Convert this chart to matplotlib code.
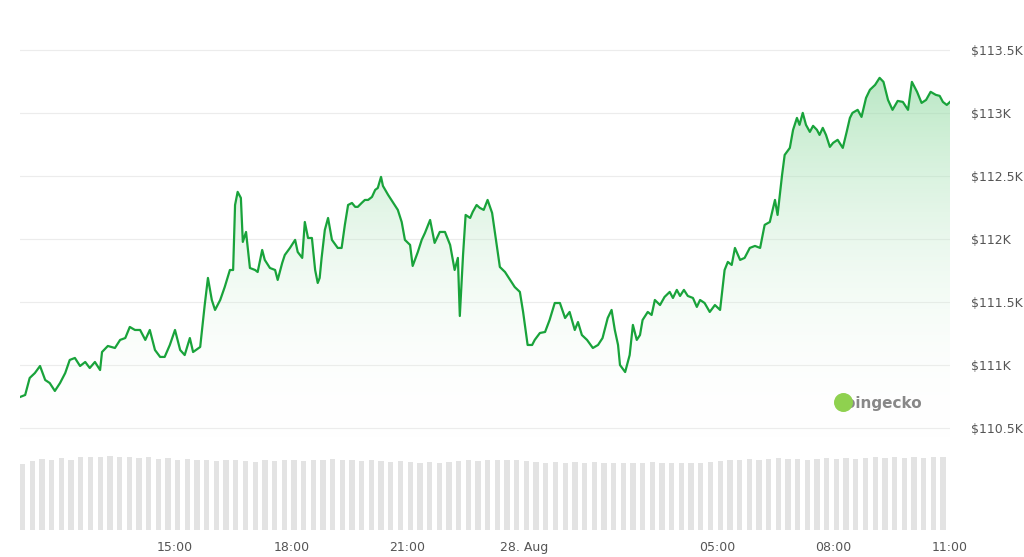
import matplotlib
matplotlib.use("Agg")
import matplotlib.pyplot as plt
import numpy as np
from matplotlib.patches import Polygon
from matplotlib.colors import LinearSegmentedColormap

# minutes since 27 Aug 11:00
minutes = [0,8,15,23,31,39,46,54,62,70,77,85,93,101,108,116,124,127,136,147,155,163,170,178,186,194,201,209,217,224,
232,240,248,255,263,268,279,286,291,297,302,310,317,325,330,333,337,342,345,350,356,364,368,375,379,387,395,399,406,410,
418,426,430,437,441,446,452,457,461,464,467,472,477,483,492,498,503,508,514,519,523,529,534,539,545,550,554,559,562,570,
577,585,591,596,604,608,616,622,627,635,642,650,658,666,673,678,681,686,690,697,701,707,712,718,724,731,737,743,751,759,
766,774,779,786,793,797,805,813,820,828,836,844,851,859,864,870,878,887,895,902,910,916,921,926,929,937,944,949,955,960,
964,972,978,983,991,998,1006,1011,1017,1022,1028,1034,1042,1048,1053,1060,1068,1076,1084,1091,1096,1102,1107,1115,1122,1130,1138,1146,1153,1161,
1169,1173,1180,1184,1192,1197,1203,1207,1212,1217,1223,1228,1234,1238,1243,1248,1254,1259,1266,1274,1280,1285,1289,1297,1303,1310,1316,1324,1331,1337,
1344,1351,1359,1367,1375,1381,1389,1396,1403,1410,1418,1424,1429,1435,1440]
price_k = [110.746,110.762,110.897,110.936,110.992,110.881,110.857,110.794,110.857,110.936,111.040,111.056,110.992,111.024,110.976,111.024,110.960,111.103,111.151,111.135,
111.199,111.214,111.302,111.278,111.278,111.199,111.278,111.119,111.064,111.064,111.159,111.278,111.119,111.079,111.214,111.103,111.143,111.476,111.691,111.516,
111.437,111.516,111.619,111.754,111.754,112.270,112.374,112.326,111.977,112.056,111.770,111.754,111.738,111.913,111.834,111.770,111.754,111.675,111.810,111.873,
111.929,111.993,111.897,111.850,112.135,112.008,112.008,111.754,111.651,111.691,111.850,112.072,112.167,111.993,111.929,111.929,112.112,112.270,112.286,112.255,
112.255,112.286,112.310,112.310,112.334,112.390,112.405,112.493,112.421,112.350,112.294,112.231,112.135,111.993,111.953,111.786,111.897,111.993,112.048,112.151,
111.969,112.056,112.056,111.953,111.754,111.850,111.389,111.873,112.191,112.167,112.215,112.270,112.247,112.231,112.310,112.207,111.993,111.778,111.738,111.675,
111.619,111.580,111.421,111.159,111.159,111.199,111.254,111.262,111.357,111.492,111.492,111.373,111.421,111.278,111.341,111.238,111.199,111.135,111.159,111.214,
111.373,111.437,111.278,111.159,111.000,110.944,111.079,111.318,111.199,111.238,111.357,111.421,111.397,111.516,111.476,111.540,111.580,111.532,111.596,111.548,
111.596,111.548,111.532,111.461,111.516,111.492,111.421,111.476,111.437,111.754,111.818,111.794,111.929,111.834,111.850,111.929,111.945,111.929,112.112,112.135,
112.310,112.191,112.509,112.667,112.723,112.866,112.961,112.906,113.001,112.906,112.850,112.898,112.866,112.826,112.882,112.826,112.731,112.763,112.787,112.723,
112.850,112.961,113.001,113.025,112.969,113.120,113.184,113.223,113.279,113.247,113.104,113.025,113.096,113.088,113.025,113.247,113.168,113.080,113.104,113.168,
113.144,113.136,113.088,113.064,113.088]
n = min(len(minutes), len(price_k))
minutes = minutes[:n]; price_k = price_k[:n]

volume = [0.88,0.92,0.95,0.94,0.96,0.93,0.97,0.98,0.97,0.99,0.98,0.97,0.96,0.97,0.95,0.96,0.94,0.95,0.93,0.94,
0.92,0.93,0.94,0.92,0.91,0.93,0.92,0.94,0.93,0.92,0.94,0.93,0.95,0.94,0.93,0.92,0.93,0.92,0.91,0.92,
0.91,0.90,0.91,0.90,0.91,0.92,0.93,0.92,0.93,0.94,0.93,0.94,0.92,0.91,0.90,0.91,0.90,0.91,0.90,0.91,
0.90,0.89,0.90,0.89,0.90,0.91,0.90,0.89,0.90,0.89,0.90,0.91,0.92,0.93,0.94,0.95,0.94,0.95,0.96,0.95,
0.95,0.94,0.95,0.96,0.95,0.96,0.95,0.96,0.97,0.96,0.97,0.96,0.97,0.96,0.97,0.97]
vol_t = [i * 1440 / len(volume) for i in range(len(volume))]

tick_pos = [240, 420, 600, 780, 1080, 1260, 1440]
tick_lab = ["15:00", "18:00", "21:00", "28. Aug", "05:00", "08:00", "11:00"]
price_ticks = [110.5, 111, 111.5, 112, 112.5, 113, 113.5]
price_labels = ["$110.5K", "$111K", "$111.5K", "$112K", "$112.5K", "$113K", "$113.5K"]

W, H = 1024, 557
fig = plt.figure(figsize=(W/100, H/100), dpi=100)
x0, x1 = 20/W, 950/W
ax = fig.add_axes([x0, 1-440/H, x1-x0, 410/H])
ylo = 111 - 75/126; yhi = 111 + 335/126
ax.set_ylim(ylo, yhi); ax.set_xlim(0, 1440)
for t in price_ticks:
    ax.axhline(t, color="#ececec", lw=0.8, zorder=0)
pk = np.array(price_k)
ax.plot(minutes, pk, color="#19a33b", lw=1.6, zorder=3)
grad = np.linspace(0, 1, 256).reshape(-1, 1)
cm = LinearSegmentedColormap.from_list("g", [(1, 1, 1, 0), (0.55, 0.85, 0.62, 0.6)])
im = ax.imshow(grad, extent=[0, 1440, ylo, max(price_k)], origin="lower", aspect="auto", cmap=cm, zorder=1)
verts = list(zip(minutes, price_k)) + [(minutes[-1], ylo), (minutes[0], ylo)]
poly = Polygon(verts, closed=True, facecolor="none", edgecolor="none", transform=ax.transData)
ax.add_patch(poly)
im.set_clip_path(poly)
ax.set_xlim(0, 1440); ax.set_ylim(ylo, yhi)
ax.yaxis.tick_right()
ax.set_yticks(price_ticks); ax.set_yticklabels(price_labels, color="#555555", fontsize=9)
ax.tick_params(axis="y", length=0, pad=15)
ax.set_xticks([])
for s in ax.spines.values(): s.set_visible(False)
ax.text(0.97, 0.09, "coingecko", transform=ax.transAxes, ha="right", va="center",
        fontsize=11, fontweight="bold", color="#888888", zorder=5)
ax.scatter([0.885 * 1440], [111 - 37/126], s=160, color="#8fd14f", zorder=5)

vax = fig.add_axes([x0, 1-530/H, x1-x0, 75/H])
vax.bar(vol_t, volume, width=1440/len(volume)*0.55, align="edge", color="#e3e3e3")
vax.set_xlim(0, 1440); vax.set_ylim(0, 1.0)
vax.set_yticks([])
vax.set_xticks(tick_pos); vax.set_xticklabels(tick_lab, color="#555555", fontsize=9)
vax.tick_params(axis="x", length=0, pad=8)
for s in vax.spines.values(): s.set_visible(False)
fig.savefig("out.png", dpi=100)
